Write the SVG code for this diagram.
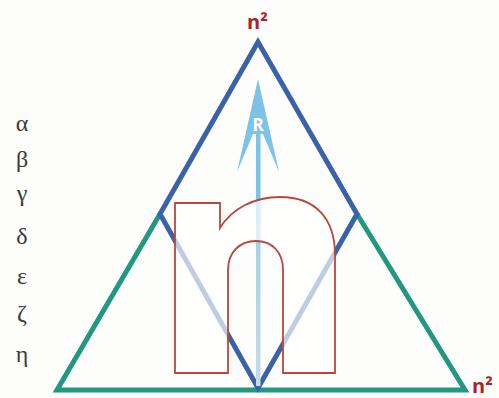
<svg xmlns="http://www.w3.org/2000/svg" width="499" height="398" viewBox="0 0 499 398">
<style>
.greek{font-family:"Liberation Serif","DejaVu Serif",serif;font-size:24px;fill:#3a3a3a;text-anchor:middle}
.lbl{font-family:"Open Sans","Liberation Sans",sans-serif;font-weight:bold;font-size:20px;fill:#a8232b}
.edge{fill:none;stroke-width:5;stroke-linejoin:miter}
</style>
<defs>
<linearGradient id="shaft" gradientUnits="userSpaceOnUse" x1="258" y1="110" x2="258" y2="388">
<stop offset="0" stop-color="#7cc3e6"/>
<stop offset="0.3" stop-color="#7cc3e6"/>
<stop offset="0.5" stop-color="#a8d2e4"/>
<stop offset="1" stop-color="#c6dde6"/>
</linearGradient>
</defs>
<rect width="499" height="398" fill="#fdfdfb"/>
<g id="connectors">
<polyline id="green-triangle" class="edge" stroke="#22987f" points="160,214 57,390 465,390 357,214"/>
<polygon id="blue-rhombus" class="edge" stroke="#3b62a6" points="258,42 160,214 258,388 357,214"/>
<g id="arrow-R">
<rect x="256" y="110" width="4.5" height="276" fill="url(#shaft)"/>
<polygon points="258,79 279,172 263,134 253,134 237,172" fill="#7cc3e6"/>
<text x="258" y="131" text-anchor="middle" font-family="Open Sans, Liberation Sans, sans-serif" font-size="17" font-weight="bold" fill="#ffffff">R</text>
</g>
</g>
<g id="n-letter">
<path d="M175,203 H220 V228 C232,208 255,197 280,197 C315,197 335,218 335,255 V373 H283 V270 C283,252 272,241 256,241 C240,241 228,252 228,270 V373 H175 Z" fill="#ffffff" fill-opacity="0.68" stroke="#b9473c" stroke-width="1.8"/>
</g>
<g id="label-top"><text class="lbl" x="247" y="29">n²</text></g>
<g id="label-right"><text class="lbl" x="472" y="393">n²</text></g>
<g id="greek-list">
<text class="greek" x="22" y="131">α</text>
<text class="greek" x="22" y="167">β</text>
<text class="greek" x="22" y="201">γ</text>
<text class="greek" x="22" y="244">δ</text>
<text class="greek" x="22" y="284">ε</text>
<text class="greek" x="22" y="321">ζ</text>
<text class="greek" x="22" y="362">η</text>
</g>
</svg>
